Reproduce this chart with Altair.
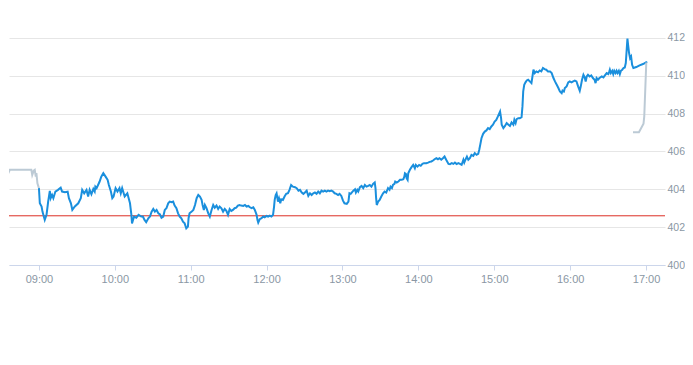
import altair as alt
import pandas as pd

# ---- data (minutes after 09:00, price) ----
session_day = "2024-01-02"
hour_labels = ["09:00", "10:00", "11:00", "12:00", "13:00", "14:00", "15:00", "16:00", "17:00"]
price_ticks = [400, 402, 404, 406, 408, 410, 412]
prev_close = 402.6

pre_min = [-29.6, -23.0, -6.0, -5.3, -4.1, -3.3, -2.5, -2.0, -1.2, 0.0]
pre_val = [404.06, 405.03, 405.03, 404.76, 404.99, 405.03, 404.67, 404.85, 404.32, 404.06]

day_min = [
    0.0, 0.7, 2.1, 2.8, 4.6, 6.0, 7.3, 8.6, 9.3, 10.4, 11.4, 13.0, 15.1, 17.2, 18.3,
    20.6, 22.7, 23.7, 25.3, 26.4, 28.4, 31.1, 33.1, 34.2, 35.8, 37.6, 38.9, 40.1, 41.5,
    43.0, 44.1, 44.6, 45.6, 48.0, 49.3, 50.9, 52.7, 54.3, 55.3, 56.9, 58.0, 59.0, 60.6,
    62.1, 63.7, 64.7, 65.8, 67.8, 69.9, 72.0, 73.1, 73.6, 75.2, 77.0, 78.8, 80.9,
    82.2, 83.5, 84.8, 86.5, 87.8, 89.1, 90.4, 91.7, 93.0, 94.4, 95.6, 96.9, 98.3, 99.5,
    100.8, 102.2, 103.4, 104.8, 106.1, 107.3, 108.7, 110.0, 111.3, 112.6, 113.9, 115.2,
    116.5, 117.8, 118.3, 119.1, 120.8, 122.1, 123.4, 124.7, 126.0, 127.3, 128.6, 129.4,
    130.4, 131.2, 132.5, 133.9, 135.1, 136.5, 137.8, 139.0, 140.4, 141.7, 142.9, 144.3,
    145.6, 146.9, 148.2, 149.5, 150.8, 152.1, 153.4, 154.7, 156.0, 157.3, 158.6, 159.9,
    161.6, 162.9, 164.2, 165.6, 166.8, 168.1, 169.5, 170.7, 172.1, 172.8, 173.4, 174.6,
    176.0, 177.3, 178.5, 179.9, 181.2, 182.5, 183.8, 185.1, 185.9, 186.4, 187.2, 187.9,
    189.0, 189.8, 190.8, 191.6, 192.9, 194.2, 195.5, 196.9, 198.1, 199.4, 200.8, 202.5,
    203.8, 205.2, 206.4, 207.8, 209.1, 210.3, 211.7, 213.0, 214.3, 215.6, 216.9, 218.2,
    219.5, 220.8, 222.1, 223.4, 224.7, 226.0, 227.3, 228.6, 229.9, 231.2, 232.6, 233.8,
    235.2, 236.5, 237.7, 239.1, 240.4, 241.6, 243.4, 244.7, 245.5, 246.5, 247.3,
    248.6, 249.9, 250.6, 251.7, 252.5, 253.8, 255.1, 256.4, 257.7, 259.0, 260.3, 261.6,
    262.9, 264.2, 265.5, 266.1, 266.6, 267.1, 268.2, 269.4, 270.7, 272.1, 273.3, 274.6,
    276.0, 277.2, 278.0, 279.1, 279.9, 281.1, 281.7, 282.9, 284.2, 285.5, 286.8, 288.1,
    288.9, 289.4, 290.2, 290.7, 291.5, 292.0, 293.3, 294.6, 295.9, 297.2, 298.0, 299.3,
    300.6, 301.9, 303.2, 304.5, 306.3, 307.7, 308.9, 310.3, 311.6, 312.8, 314.2, 315.5,
    316.7, 318.1, 319.4, 320.7, 322.0, 323.8, 325.0, 326.4, 327.7, 328.9, 330.3, 331.6,
    332.9, 334.2,
    335.6, 336.3, 337.4, 338.4, 339.5, 340.7, 342.0, 343.4, 344.6, 346.0, 347.3, 348.1,
    348.9, 349.9, 351.2, 352.5, 353.8, 355.1, 356.4, 357.7, 359.0, 360.3, 361.6, 362.9,
    364.6, 365.4, 365.9, 367.2, 368.5, 369.8, 371.2, 372.4, 373.7, 375.1, 375.9, 376.9,
    377.7, 379.0, 380.2, 381.6, 382.3, 382.9, 383.7, 384.7, 385.7, 386.8, 388.1, 389.4,
    390.2, 391.0, 392.0, 393.3, 394.6, 395.9, 397.2, 398.5, 399.8, 401.1, 402.5, 404.1,
    405.4, 406.8, 408.0, 409.4, 410.7, 411.9, 413.3, 414.0, 415.1, 415.8, 417.2, 418.5,
    419.7, 421.1,
    422.4, 423.7, 425.0, 426.3, 427.6, 428.4, 429.4, 430.5, 431.5, 432.3, 433.1, 434.1,
    435.4, 436.7, 438.0, 439.3, 440.1, 440.9, 442.0, 443.2, 445.0, 446.3, 447.5, 448.9,
    450.2, 451.0, 451.4, 452.2, 453.3, 454.1, 454.9, 455.9, 456.7, 457.5, 458.5, 459.3,
    460.1, 461.2, 462.2, 463.2, 464.0, 464.8, 465.3, 465.8, 466.6, 467.4, 468.2, 469.0,
    470.0, 472.3, 474.9, 477.6, 480.2, 481.0,
]
day_val = [
    404.06, 403.26, 403.09, 402.82, 402.38, 402.65, 403.35, 403.92, 403.53, 403.70, 403.53,
    403.88, 403.97, 404.09, 403.88,
    403.85, 403.88, 403.53, 403.26, 402.91, 403.09, 403.26, 403.53, 403.97, 403.79, 403.97,
    403.62, 403.97, 403.74,
    404.02, 403.88, 404.14, 404.06, 404.41, 404.67, 404.85, 404.67, 404.50, 404.23, 403.88,
    403.53, 403.62, 404.06,
    403.88, 404.06, 403.79, 404.06, 403.62, 403.79, 403.26, 402.65, 402.20, 402.56, 402.50,
    402.65, 402.56,
    402.56, 402.38, 402.26, 402.47, 402.56, 402.82, 402.96, 402.82, 402.91, 402.73, 402.68,
    402.50, 402.56, 402.91,
    403.00, 403.26, 403.35, 403.32, 403.35, 403.14, 403.00, 402.73, 402.56, 402.47, 402.29,
    402.20,
    401.94, 402.03, 402.47, 402.73, 402.82, 402.91, 403.17, 403.53, 403.70, 403.62, 403.44,
    403.17,
    402.91, 403.17, 403.00, 402.73, 402.56, 402.91, 403.17, 403.03, 403.14, 402.96, 403.09,
    403.00,
    402.82, 402.96, 402.86, 402.65, 402.96, 402.86, 402.91, 403.00, 403.03, 403.14, 403.17,
    403.14,
    403.12, 403.17, 403.09, 403.12, 403.05, 403.00, 403.05, 402.91, 402.65, 402.38, 402.24,
    402.42,
    402.47, 402.56, 402.52, 402.59, 402.56, 402.61, 402.56, 402.65, 403.09, 403.44, 403.70,
    403.79,
    403.35, 403.53, 403.26, 403.47, 403.44, 403.62, 403.76, 403.79, 403.97, 404.23, 404.14,
    404.11,
    404.06, 403.93, 403.97, 403.83, 403.76, 403.83, 403.93, 403.65, 403.79, 403.70, 403.79,
    403.83,
    403.76, 403.88, 403.79, 403.93, 403.88, 403.93, 403.88, 403.93, 403.90, 403.93, 403.88,
    403.79,
    403.76, 403.70, 403.76, 403.65, 403.40, 403.26, 403.23, 403.35, 403.79, 403.76, 403.83,
    403.93, 404.00, 403.83, 403.97, 403.88, 404.11, 404.18, 404.06, 404.23, 404.14, 404.18,
    404.23,
    404.14, 404.29, 404.36, 404.06, 403.53, 403.17, 403.35, 403.44, 403.62, 403.79, 403.88,
    403.83,
    404.06, 403.97, 404.14, 404.06, 404.23, 404.29, 404.41, 404.36, 404.41, 404.50, 404.50,
    404.53,
    404.67, 404.85, 404.81, 404.59, 404.50, 404.85, 405.03, 405.17, 405.29, 405.11, 405.29,
    405.20,
    405.29, 405.24, 405.34, 405.38, 405.38, 405.41, 405.45, 405.47, 405.52, 405.59, 405.64,
    405.59,
    405.64, 405.56, 405.64, 405.73, 405.56, 405.34, 405.33, 405.38, 405.34, 405.41, 405.33,
    405.38,
    405.34, 405.29,
    405.56, 405.41, 405.59, 405.73, 405.56, 405.64, 405.82, 405.77, 405.91, 405.82, 405.87,
    406.08,
    406.35, 406.70, 406.93, 407.05, 407.11, 407.23, 407.18, 407.32, 407.41, 407.58, 407.67,
    407.85,
    408.11, 407.76, 407.41, 407.23, 407.35, 407.50, 407.41, 407.35, 407.53, 407.41, 407.67,
    407.50,
    407.71, 407.76, 407.76, 407.81, 408.38, 409.17, 409.52, 409.65, 409.75, 409.79, 409.70,
    409.61,
    409.96, 410.32, 410.14, 410.23, 410.18, 410.28, 410.23, 410.41, 410.35, 410.32, 410.23,
    410.23,
    410.14, 409.88, 409.70, 409.52, 409.35, 409.17, 409.08, 409.22, 409.17, 409.35, 409.44,
    409.65,
    409.70, 409.65,
    409.70, 409.74, 409.70, 409.44, 409.21, 409.44, 409.79, 410.05, 409.91, 409.70, 409.96,
    410.05,
    409.96, 410.02, 409.88, 409.79, 409.61, 409.88, 409.79, 409.88, 409.96, 409.91, 410.02,
    410.14,
    410.09, 410.23, 410.32, 410.14, 410.26, 410.09, 410.26, 410.14, 410.26, 410.14, 410.26,
    410.09,
    410.26, 410.32, 410.41, 410.44, 410.67, 411.46, 411.96, 411.64, 411.20, 410.93, 411.02,
    410.58,
    410.41, 410.46, 410.55, 410.62, 410.71, 410.72,
]

post_min = [469.7, 474.4, 478.0, 478.6, 480.2]
post_val = [407.02, 407.02, 407.46, 407.85, 410.70]

assert len(day_min) == len(day_val), (len(day_min), len(day_val))

# ---- table ----
base_ts = pd.Timestamp(session_day + " 09:00")


def frame(mins, vals, name):
    return pd.DataFrame({
        "time": base_ts + pd.to_timedelta(mins, unit="m"),
        "price": vals,
        "series": name,
    })


df = pd.concat([
    frame(pre_min, pre_val, "pre"),
    frame(day_min, day_val, "day"),
    frame(post_min, post_val, "post"),
], ignore_index=True)

y_, m_, d_ = (int(p) for p in session_day.split("-"))


def dt(h, mi=0, s=0):
    return alt.DateTime(year=y_, month=m_, date=d_, hours=h, minutes=mi, seconds=s)


label_color = "#8a97a4"

x_enc = alt.X(
    "time:T",
    scale=alt.Scale(domain=[dt(8, 36, 20), dt(17, 15, 0)]),
    axis=alt.Axis(
        values=[dt(int(lbl[:2])) for lbl in hour_labels],
        format="%H:%M",
        title=None,
        grid=False,
        domainColor="#ccd6eb",
        tickColor="#ccd6eb",
        tickSize=5,
        labelPadding=3,
        labelFlush=False,
        labelColor=label_color,
        labelFontSize=11,
        labelFont="Liberation Sans",
    ),
)

y_scale = alt.Scale(domain=[400, 413.58], nice=False, zero=False)
y_axis = alt.Axis(
    orient="right",
    values=price_ticks,
    title=None,
    grid=True,
    gridColor="#e6e6e6",
    domain=False,
    ticks=False,
    labelPadding=2,
    labelColor=label_color,
    labelFontSize=10.5,
    labelFont="Liberation Sans",
)

lines = alt.Chart(df).mark_line(strokeWidth=2, clip=True).encode(
    x=x_enc,
    y=alt.Y("price:Q", scale=y_scale, axis=y_axis),
    color=alt.Color(
        "series:N",
        scale=alt.Scale(domain=["pre", "day", "post"], range=["#bccad5", "#1a8fdd", "#bccad5"]),
        legend=None,
    ),
    order=alt.Order("time:T"),
)

ref = alt.Chart(pd.DataFrame({"price": [prev_close]})).mark_rule(
    color="#dc2f25", strokeWidth=1
).encode(
    y=alt.Y("price:Q", scale=y_scale, axis=y_axis),
)

chart = alt.layer(ref, lines).properties(
    width=656, height=257, padding=0
).configure_view(stroke=None)

chart.save("out.html", embed_options={"renderer": "svg", "actions": False})
